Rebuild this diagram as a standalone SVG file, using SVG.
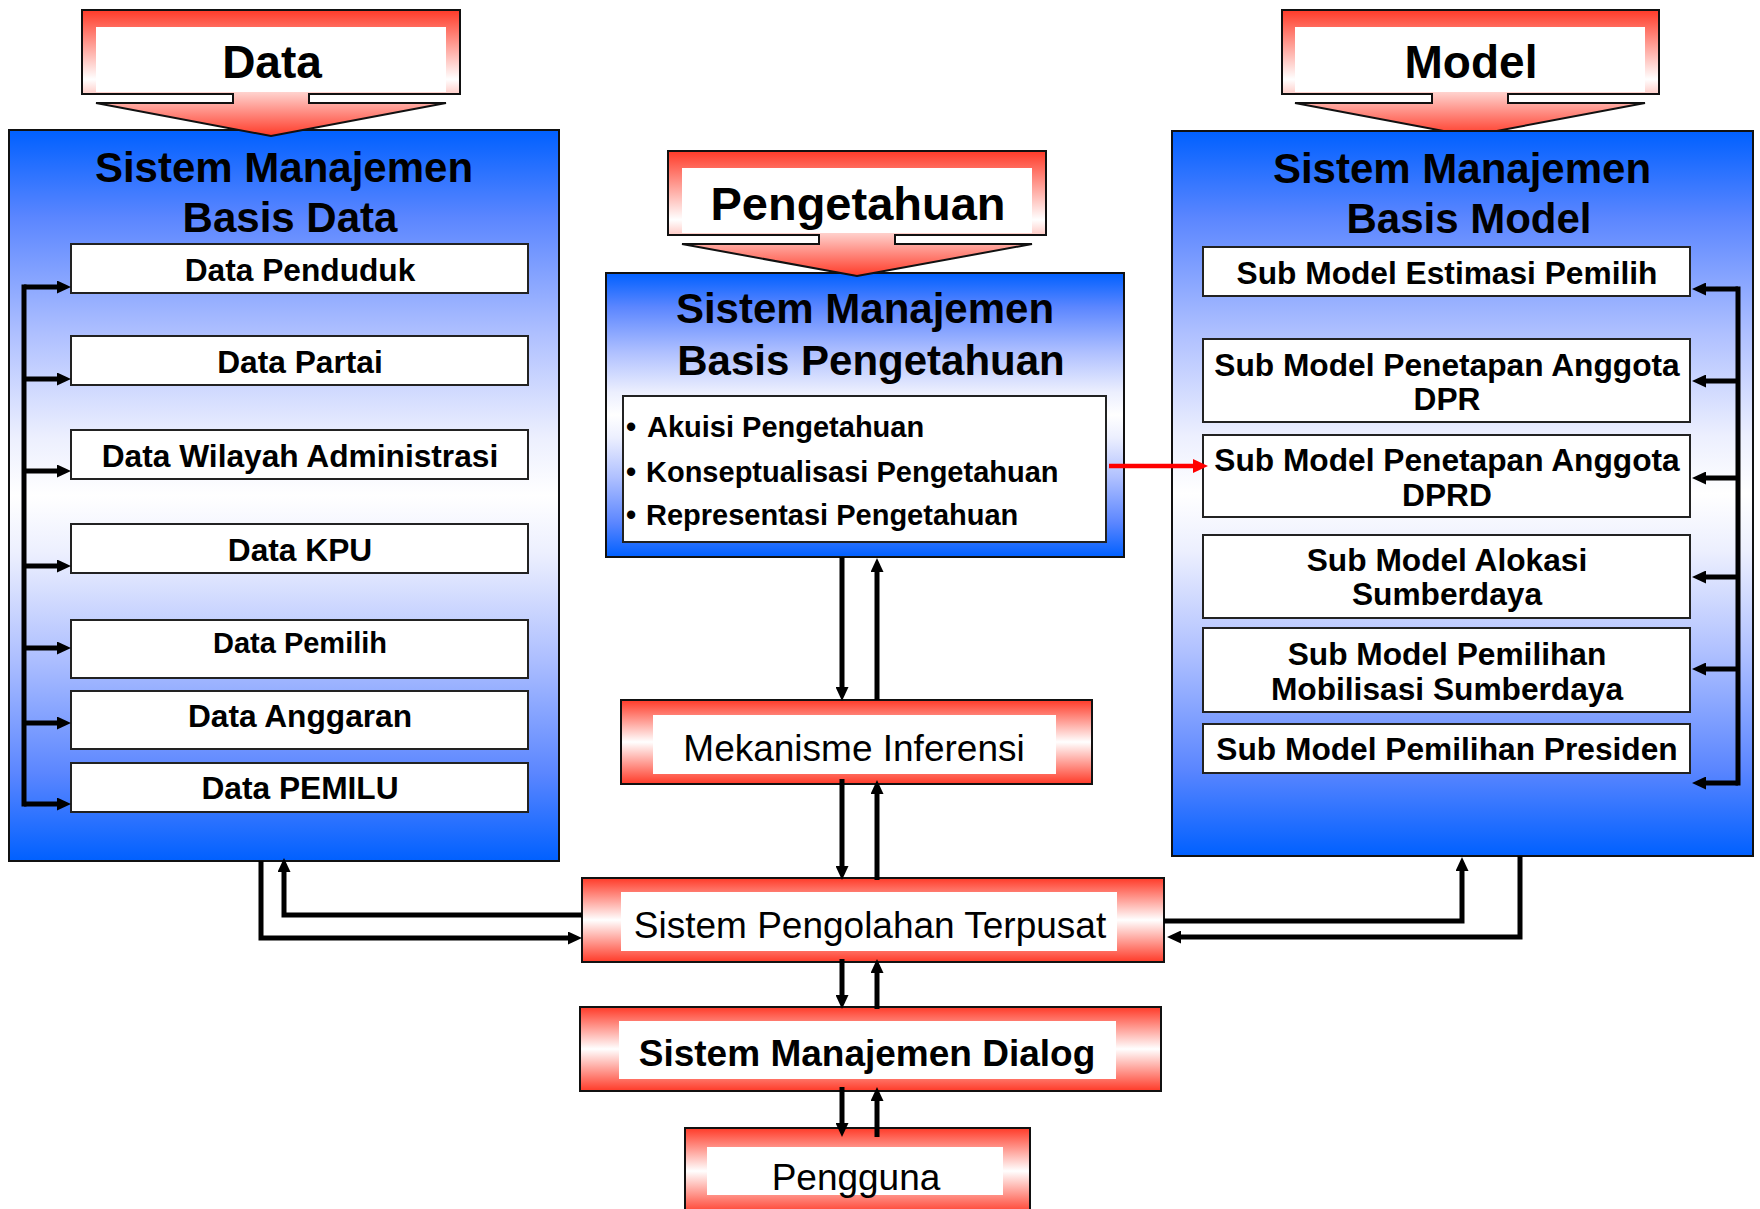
<svg xmlns="http://www.w3.org/2000/svg" width="1760" height="1209" viewBox="0 0 1760 1209">
  <style>
    text { font-family: "Liberation Sans", Arial, sans-serif; fill: #000; }
    .title { font-size: 42px; font-weight: bold; text-anchor: middle; }
    .banner-text { font-size: 46px; font-weight: bold; text-anchor: middle; }
    .item-text { font-size: 31.7px; font-weight: bold; text-anchor: middle; }
    .list-text { font-size: 29px; font-weight: bold; }
    .proc-text { font-size: 37px; text-anchor: middle; }
    .blue-box { fill: url(#blueGrad); stroke: #111; stroke-width: 2; }
    .item-box { fill: #fff; stroke: #222; stroke-width: 2; }
    .red-box { fill: url(#redGrad); stroke: #111; stroke-width: 2; }
    .callout { fill: url(#calloutGrad); stroke: #111; stroke-width: 2; }
    .inner { fill: #fff; }
    .link { fill: none; stroke: #000; stroke-width: 5; marker-end: url(#arw); }
    .bus { fill: none; stroke: #000; stroke-width: 5; stroke-linecap: square; }
    .link-red { fill: none; stroke: #ff0000; stroke-width: 4.5; marker-end: url(#arwRed); }
  </style>
  <defs>
    <linearGradient id="blueGrad" x1="0" y1="0" x2="0" y2="1">
      <stop offset="0" stop-color="#0060ff"/>
      <stop offset="0.12" stop-color="#5b86ff"/>
      <stop offset="0.28" stop-color="#afc0ff"/>
      <stop offset="0.42" stop-color="#eceffe"/>
      <stop offset="0.5" stop-color="#ffffff"/>
      <stop offset="0.58" stop-color="#eceffe"/>
      <stop offset="0.72" stop-color="#afc0ff"/>
      <stop offset="0.88" stop-color="#5b86ff"/>
      <stop offset="1" stop-color="#0060ff"/>
    </linearGradient>
    <linearGradient id="redGrad" x1="0" y1="0" x2="0" y2="1">
      <stop offset="0" stop-color="#ff3a28"/>
      <stop offset="0.5" stop-color="#ffffff"/>
      <stop offset="1" stop-color="#ff3a28"/>
    </linearGradient>
    <linearGradient id="calloutGrad" x1="0" y1="0" x2="0" y2="1">
      <stop offset="0" stop-color="#ff3a28"/>
      <stop offset="0.55" stop-color="#ffffff"/>
      <stop offset="1" stop-color="#ff3a28"/>
    </linearGradient>
    <marker id="arw" markerUnits="userSpaceOnUse" markerWidth="14" markerHeight="13" viewBox="0 0 14 13" refX="4" refY="6.5" orient="auto">
      <path d="M0,0 L14,6.5 L0,13 z" fill="#000"/>
    </marker>
    <marker id="arwRed" markerUnits="userSpaceOnUse" markerWidth="15" markerHeight="14" viewBox="0 0 15 14" refX="5" refY="7" orient="auto">
      <path d="M0,0 L15,7 L0,14 z" fill="#ff0000"/>
    </marker>
  </defs>

  <!-- Database management subsystem -->
  <g id="sm-basis-data">
    <rect class="blue-box" x="9" y="130" width="550" height="731"/>
    <text class="title" x="284" y="182">Sistem Manajemen</text>
    <text class="title" x="290" y="232">Basis Data</text>
    <g id="data-penduduk">
      <rect class="item-box" x="71" y="244" width="457" height="49"/>
      <text class="item-text" x="300" y="281">Data Penduduk</text>
    </g>
    <g id="data-partai">
      <rect class="item-box" x="71" y="336" width="457" height="49"/>
      <text class="item-text" x="300" y="373">Data Partai</text>
    </g>
    <g id="data-wilayah">
      <rect class="item-box" x="71" y="430" width="457" height="49"/>
      <text class="item-text" x="300" y="467">Data Wilayah Administrasi</text>
    </g>
    <g id="data-kpu">
      <rect class="item-box" x="71" y="524" width="457" height="49"/>
      <text class="item-text" x="300" y="561">Data KPU</text>
    </g>
    <g id="data-pemilih">
      <rect class="item-box" x="71" y="620" width="457" height="58"/>
      <text class="item-text" x="300" y="653" style="font-size:29px">Data Pemilih</text>
    </g>
    <g id="data-anggaran">
      <rect class="item-box" x="71" y="691" width="457" height="58"/>
      <text class="item-text" x="300" y="727">Data Anggaran</text>
    </g>
    <g id="data-pemilu">
      <rect class="item-box" x="71" y="763" width="457" height="49"/>
      <text class="item-text" x="300" y="799">Data PEMILU</text>
    </g>
  </g>

  <!-- "Data" input callout -->
  <g id="callout-data">
    <path class="callout" d="M82 10 H460 V94 H309 V103 H446 L271 136 L96 103 H233 V94 H82 Z"/>
    <rect class="inner" x="96" y="27" width="350" height="65"/>
    <text class="banner-text" x="272" y="78">Data</text>
  </g>

  <!-- Knowledge base management subsystem -->
  <g id="sm-basis-pengetahuan">
    <rect class="blue-box" x="606" y="273" width="518" height="284"/>
    <text class="title" x="865" y="323">Sistem Manajemen</text>
    <text class="title" x="871" y="375">Basis Pengetahuan</text>
    <g id="daftar-pengetahuan">
      <rect class="item-box" x="623" y="396" width="483" height="146"/>
      <text class="list-text" x="626" y="437">•</text>
      <text class="list-text" x="647" y="437">Akuisi Pengetahuan</text>
      <text class="list-text" x="626" y="482">•</text>
      <text class="list-text" x="646" y="482">Konseptualisasi Pengetahuan</text>
      <text class="list-text" x="626" y="525">•</text>
      <text class="list-text" x="646" y="525">Representasi Pengetahuan</text>
    </g>
  </g>

  <!-- "Pengetahuan" input callout -->
  <g id="callout-pengetahuan">
    <path class="callout" d="M668 151 H1046 V235 H895 V244 H1032 L857 276 L682 244 H819 V235 H668 Z"/>
    <rect class="inner" x="682" y="168" width="350" height="65"/>
    <text class="banner-text" x="858" y="220" style="font-size:47px">Pengetahuan</text>
  </g>

  <!-- "Model" input callout (sits beneath the model base box) -->
  <g id="callout-model">
    <path class="callout" d="M1282 10 H1659 V94 H1508 V103 H1645 L1470 136 L1295 103 H1432 V94 H1282 Z"/>
    <rect class="inner" x="1295" y="27" width="350" height="65"/>
    <text class="banner-text" x="1471" y="78">Model</text>
  </g>

  <!-- Model base management subsystem -->
  <g id="sm-basis-model">
    <rect class="blue-box" x="1172" y="131" width="581" height="725"/>
    <text class="title" x="1462" y="183">Sistem Manajemen</text>
    <text class="title" x="1469" y="233">Basis Model</text>
    <g id="sub-estimasi-pemilih">
      <rect class="item-box" x="1203" y="247" width="487" height="49"/>
      <text class="item-text" x="1447" y="284">Sub Model Estimasi Pemilih</text>
    </g>
    <g id="sub-penetapan-dpr">
      <rect class="item-box" x="1203" y="339" width="487" height="83"/>
      <text class="item-text" x="1447" y="376">Sub Model Penetapan Anggota</text>
      <text class="item-text" x="1447" y="410">DPR</text>
    </g>
    <g id="sub-penetapan-dprd">
      <rect class="item-box" x="1203" y="435" width="487" height="82"/>
      <text class="item-text" x="1447" y="471">Sub Model Penetapan Anggota</text>
      <text class="item-text" x="1447" y="506">DPRD</text>
    </g>
    <g id="sub-alokasi">
      <rect class="item-box" x="1203" y="535" width="487" height="83"/>
      <text class="item-text" x="1447" y="571">Sub Model Alokasi</text>
      <text class="item-text" x="1447" y="605">Sumberdaya</text>
    </g>
    <g id="sub-mobilisasi">
      <rect class="item-box" x="1203" y="628" width="487" height="84"/>
      <text class="item-text" x="1447" y="665">Sub Model Pemilihan</text>
      <text class="item-text" x="1447" y="700">Mobilisasi Sumberdaya</text>
    </g>
    <g id="sub-presiden">
      <rect class="item-box" x="1203" y="724" width="487" height="49"/>
      <text class="item-text" x="1447" y="760">Sub Model Pemilihan Presiden</text>
    </g>
  </g>

  <!-- Processing chain -->
  <g id="mekanisme-inferensi">
    <rect class="red-box" x="621" y="700" width="471" height="84"/>
    <rect class="inner" x="653" y="715" width="403" height="59"/>
    <text class="proc-text" x="854" y="761">Mekanisme Inferensi</text>
  </g>
  <g id="sistem-pengolahan-terpusat">
    <rect class="red-box" x="582" y="878" width="582" height="84"/>
    <rect class="inner" x="621" y="892" width="496" height="59"/>
    <text class="proc-text" x="870" y="938">Sistem Pengolahan Terpusat</text>
  </g>
  <g id="sistem-manajemen-dialog">
    <rect class="red-box" x="580" y="1007" width="581" height="84"/>
    <rect class="inner" x="619" y="1021" width="497" height="58"/>
    <text class="proc-text" x="867" y="1066" style="font-weight:bold">Sistem Manajemen Dialog</text>
  </g>
  <g id="pengguna">
    <rect class="red-box" x="685" y="1128" width="345" height="86"/>
    <rect class="inner" x="707" y="1147" width="296" height="48"/>
    <text class="proc-text" x="856" y="1190">Pengguna</text>
  </g>

  <!-- Connectors -->
  <g id="connectors">
    <!-- data bus on the left -->
    <path class="bus" d="M24 287 V804"/>
    <path class="link" d="M24 287 H61"/>
    <path class="link" d="M24 379 H61"/>
    <path class="link" d="M24 471 H61"/>
    <path class="link" d="M24 566 H61"/>
    <path class="link" d="M24 648 H61"/>
    <path class="link" d="M24 723 H61"/>
    <path class="link" d="M24 804 H61"/>
    <!-- model bus on the right -->
    <path class="bus" d="M1738 289 V783"/>
    <path class="link" d="M1738 289 H1702"/>
    <path class="link" d="M1738 381 H1702"/>
    <path class="link" d="M1738 478 H1702"/>
    <path class="link" d="M1738 577 H1702"/>
    <path class="link" d="M1738 669 H1702"/>
    <path class="link" d="M1738 783 H1702"/>
    <!-- knowledge base <-> inference -->
    <path class="link" d="M842 557 V691"/>
    <path class="link" d="M877 700 V568"/>
    <!-- inference <-> central processing -->
    <path class="link" d="M842 779 V870"/>
    <path class="link" d="M877 880 V790"/>
    <!-- central processing <-> dialog -->
    <path class="link" d="M842 959 V999"/>
    <path class="link" d="M877 1009 V969"/>
    <!-- dialog <-> user -->
    <path class="link" d="M842 1087 V1127"/>
    <path class="link" d="M877 1137 V1097"/>
    <!-- database <-> central processing -->
    <path class="link" d="M582 915 H284 V868"/>
    <path class="link" d="M261 861 V938 H572"/>
    <!-- model base <-> central processing -->
    <path class="link" d="M1164 921 H1462 V867"/>
    <path class="link" d="M1520 856 V937 H1177"/>
    <!-- knowledge list -> DPRD sub model -->
    <path class="link-red" d="M1109 466 H1198"/>
  </g>
</svg>
